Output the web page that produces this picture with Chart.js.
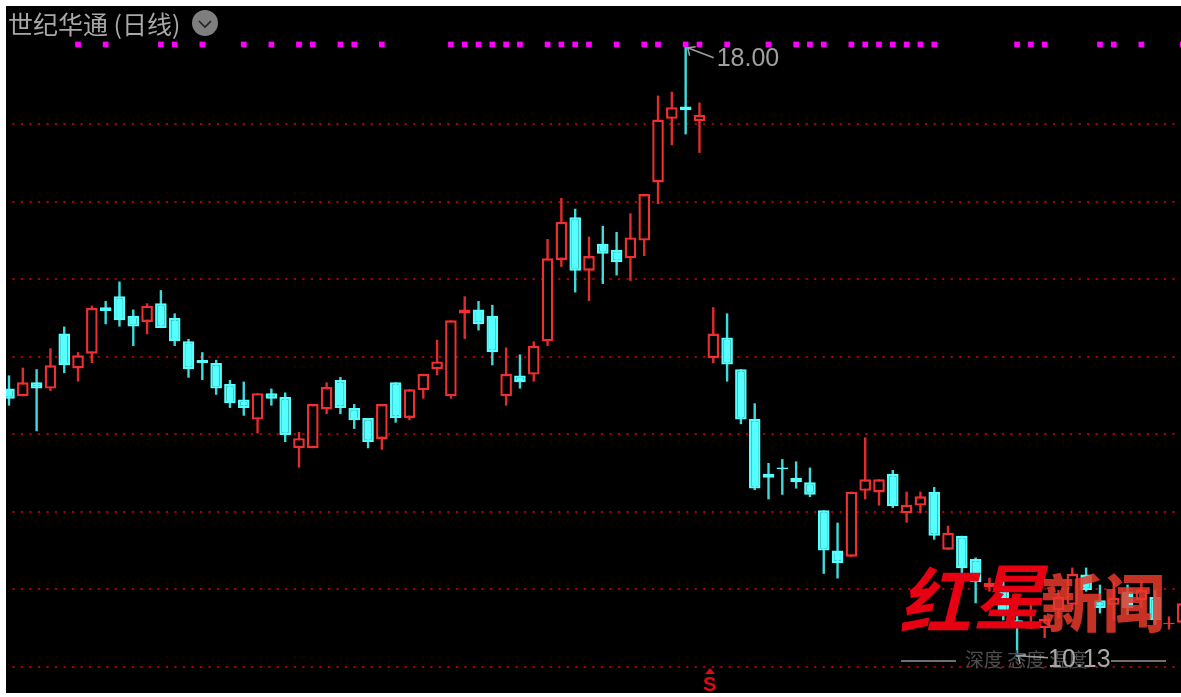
<!DOCTYPE html>
<html>
<head>
<meta charset="utf-8">
<title>世纪华通 (日线)</title>
<script src="https://cdn.jsdelivr.net/npm/chart.js@4/dist/chart.umd.min.js"></script>
<style>
  html, body { margin: 0; padding: 0; background: #fff; overflow: hidden; }
  canvas { display: block; filter: blur(0.35px); }
</style>
</head>
<body>
<canvas id="klineChart" width="1181" height="697"></canvas>
<script>
// --------------------------------- Data -------------------------------
const stockName = '世纪华通 (日线)';

const openPrices = [
  13.59, 13.49, 13.67, 13.59, 14.30, 13.85, 14.04, 14.64, 14.78, 14.53,
  14.45, 14.69, 14.50, 14.20, 13.96, 13.92, 13.65, 13.45, 13.19, 13.53,
  13.48, 12.82, 12.82, 13.32, 13.70, 13.34, 13.21, 12.94, 13.67, 13.21,
  13.57, 13.84, 13.49, 14.56, 14.61, 14.53, 13.49, 13.76, 13.77, 14.20,
  15.25, 15.80, 15.11, 15.46, 15.38, 15.27, 15.50, 16.25, 17.07, 17.23,
  17.04, 13.98, 14.25, 13.84, 13.20, 12.49, 12.57, 12.44, 12.38, 12.02,
  11.50, 11.42, 12.27, 12.25, 12.49, 11.98, 12.08, 12.26, 11.51, 11.69,
  11.39, 11.03, 11.03, 10.60, 10.49, 10.50, 10.73, 10.80, 11.19, 10.86,
  10.80, 10.97, 10.86, 10.90, 10.55, 10.57
];
const closePrices = [
  13.46, 13.67, 13.59, 13.89, 13.89, 14.02, 14.63, 14.59, 14.47, 14.39,
  14.66, 14.37, 14.20, 13.84, 13.92, 13.59, 13.40, 13.34, 13.53, 13.46,
  12.99, 12.95, 13.39, 13.61, 13.34, 13.18, 12.90, 13.39, 13.21, 13.58,
  13.78, 13.94, 14.47, 14.61, 14.42, 14.06, 13.78, 13.67, 14.14, 15.27,
  15.74, 15.11, 15.30, 15.33, 15.22, 15.54, 16.10, 17.06, 17.22, 17.18,
  17.12, 14.30, 13.90, 13.19, 12.30, 12.44, 12.55, 12.38, 12.22, 11.50,
  11.34, 12.26, 12.42, 12.42, 12.07, 12.09, 12.20, 11.69, 11.73, 11.27,
  11.09, 11.08, 10.69, 10.51, 10.57, 10.62, 10.90, 11.20, 10.99, 10.76,
  10.89, 10.76, 10.99, 10.60, 10.57, 10.82
];
const highPrices = [
  13.76, 13.86, 13.84, 14.11, 14.39, 14.06, 14.66, 14.72, 14.97, 14.61,
  14.69, 14.86, 14.56, 14.23, 14.06, 13.96, 13.70, 13.68, 13.53, 13.59,
  13.54, 13.03, 13.39, 13.67, 13.74, 13.39, 13.21, 13.39, 13.67, 13.58,
  13.78, 14.22, 14.47, 14.78, 14.72, 14.67, 14.12, 14.03, 14.20, 15.52,
  16.05, 15.91, 15.55, 15.69, 15.61, 15.85, 16.10, 17.37, 17.42, 18.00,
  17.28, 14.64, 14.56, 13.84, 13.40, 12.63, 12.68, 12.65, 12.57, 12.02,
  11.86, 12.26, 12.96, 12.42, 12.54, 12.26, 12.26, 12.32, 11.82, 11.69,
  11.41, 11.15, 11.15, 10.67, 10.83, 10.67, 10.99, 11.28, 11.28, 11.06,
  11.10, 11.06, 11.10, 10.99, 10.65, 10.82
];
const lowPrices = [
  13.37, 13.49, 13.04, 13.56, 13.79, 13.68, 13.92, 14.42, 14.39, 14.14,
  14.29, 14.37, 14.14, 13.73, 13.70, 13.51, 13.34, 13.24, 13.01, 13.37,
  12.90, 12.57, 12.82, 13.26, 13.26, 13.07, 12.82, 12.80, 13.15, 13.18,
  13.46, 13.76, 13.46, 14.23, 14.34, 13.89, 13.37, 13.59, 13.68, 14.14,
  15.16, 14.83, 14.72, 14.94, 15.05, 14.98, 15.30, 15.97, 16.73, 16.87,
  16.63, 13.92, 13.68, 13.13, 12.28, 12.16, 12.22, 12.30, 12.19, 11.20,
  11.14, 11.42, 12.16, 12.08, 12.05, 11.86, 11.98, 11.64, 11.51, 11.19,
  10.82, 10.97, 10.60, 10.13, 10.49, 10.37, 10.63, 10.73, 10.97, 10.69,
  10.60, 10.67, 10.76, 10.54, 10.48, 10.57
];

// days carrying a magenta dot along the top
const signalDays = [
  5, 7, 11, 12, 14, 17, 19, 21, 22, 24, 25, 27,
  32, 33, 34, 35, 36, 37, 39, 40, 41, 42, 44, 46, 47, 49, 50, 52, 55,
  57, 58, 59, 61, 62, 63, 64, 65, 66, 67, 73, 74, 75, 79, 80, 82, 85
];
const signalLevel = 18.03;

const gridPrices = [10, 11, 12, 13, 14, 15, 16, 17];

const highDay = 49;
const lowDay = 73;
const sellDay = 51;

// ------------------------------------------- Colours ---------------------------------------
const upColor = '#f03030';
const upWick = '#e02c2c';
const downColor = '#55ffff';
const downWick = '#3fdcdc';

const isUp = i => closePrices[i] >= openPrices[i];

// ------------------------------------------ Datasets ---------------------------------------
const wickData = highPrices.map((h, i) => ({ x: i, y: [lowPrices[i], h] }));
const bodyData = openPrices.map((o, i) => ({ x: i, y: [o, closePrices[i]] }));
const signalData = signalDays.map(d => ({ x: d, y: signalLevel }));

// ------------------------------ Black panel behind the plot --------------------------------
const panel = {
  id: 'panel',
  beforeDraw(chart) {
    const { ctx, chartArea: a } = chart;
    ctx.save();
    ctx.fillStyle = '#000';
    ctx.fillRect(a.left, a.top, a.right - a.left, a.bottom - a.top);
    ctx.restore();
  }
};

// -------------------------------- Texts and marks on the plot ------------------------------
const overlay = {
  id: 'overlay',
  afterDraw(chart) {
    const { ctx, scales } = chart;
    const px = d => scales.x.getPixelForValue(d);
    const py = p => scales.y.getPixelForValue(p);

    ctx.save();
    ctx.textBaseline = 'middle';
    ctx.textAlign = 'left';

    // title and drop down button
    ctx.fillStyle = '#a8a8a8';
    ctx.font = '25px "Noto Sans CJK SC"';
    ctx.fillText(stockName, 8, 24);
    ctx.fillStyle = '#7e7e7e';
    ctx.beginPath();
    ctx.arc(205, 23, 13, 0, Math.PI * 2);
    ctx.fill();
    ctx.strokeStyle = '#222';
    ctx.lineWidth = 1.6;
    ctx.beginPath();
    ctx.moveTo(199, 21);
    ctx.lineTo(205, 27);
    ctx.lineTo(211, 21);
    ctx.stroke();

    // highest price
    ctx.strokeStyle = '#a0a0a0';
    ctx.fillStyle = '#a0a0a0';
    ctx.lineWidth = 1.5;
    drawPointer(ctx, px(highDay) + 2, py(highPrices[highDay]) + 1, px(highDay) + 28, py(highPrices[highDay]) + 11);
    ctx.font = '25px "Liberation Sans"';
    ctx.fillText(highPrices[highDay].toFixed(2), px(highDay) + 31, py(highPrices[highDay]) + 12);

    // watermark
    ctx.fillStyle = '#e60012';
    ctx.font = 'italic 700 72px "Noto Sans CJK SC"';
    ctx.fillText('红', 899, 601);
    ctx.fillText('星', 973, 597);
    ctx.globalAlpha = 0.85;
    ctx.fillStyle = '#e8392a';
    ctx.font = '900 62px "Noto Sans CJK SC"';
    ctx.fillText('新闻', 1041, 603);
    ctx.globalAlpha = 1;

    ctx.strokeStyle = '#707070';
    ctx.lineWidth = 2;
    ctx.beginPath();
    ctx.moveTo(901, 661);
    ctx.lineTo(956, 661);
    ctx.moveTo(1111, 661);
    ctx.lineTo(1166, 661);
    ctx.stroke();
    ctx.fillStyle = '#4e4e4e';
    ctx.font = '19px "Noto Sans CJK SC"';
    ctx.fillText('深度 态度 温度', 965, 660);

    // lowest price
    ctx.strokeStyle = '#a0a0a0';
    ctx.fillStyle = '#a8a8a8';
    ctx.lineWidth = 1.5;
    drawPointer(ctx, px(lowDay) + 1, py(lowPrices[lowDay]) - 1, px(lowDay) + 31, py(lowPrices[lowDay]) + 1);
    ctx.font = '25px "Liberation Sans"';
    ctx.fillText(lowPrices[lowDay].toFixed(2), px(lowDay) + 31, py(lowPrices[lowDay]) + 3);

    // sell mark under the day after the gap
    ctx.fillStyle = '#e00a14';
    ctx.beginPath();
    ctx.moveTo(710, 668);
    ctx.lineTo(705, 674);
    ctx.lineTo(715, 674);
    ctx.closePath();
    ctx.fill();
    ctx.textAlign = 'center';
    ctx.font = 'bold 20px "Liberation Sans"';
    ctx.fillText('S', px(sellDay) - 3.5, 685);

    ctx.restore();
  }
};

function drawPointer(ctx, x0, y0, x1, y1) {
  ctx.beginPath();
  ctx.moveTo(x1, y1);
  ctx.lineTo(x0, y0);
  ctx.moveTo(x0 + 8, y0 - 1);
  ctx.lineTo(x0, y0);
  ctx.lineTo(x0 + 2, y0 + 8);
  ctx.stroke();
}

// -------------------------------------------- Chart ----------------------------------------
const klineChart = new Chart(document.getElementById('klineChart'), {
  type: 'bar',
  data: {
    datasets: [
      {
        type: 'scatter',
        label: 'signal',
        data: signalData,
        pointStyle: 'rect',
        pointRadius: 4,
        backgroundColor: '#ff00ff',
        borderWidth: 0,
        order: 0
      },
      {
        label: 'body',
        data: bodyData,
        grouped: false,
        barThickness: 11.6,
        borderSkipped: false,
        borderWidth: 2.4,
        inflateAmount: 0,
        backgroundColor: bodyData.map((d, i) => isUp(i) ? '#000' : downColor),
        borderColor: bodyData.map((d, i) => isUp(i) ? upColor : downColor),
        order: 1
      },
      {
        label: 'wick',
        data: wickData,
        grouped: false,
        barThickness: 2.4,
        borderWidth: 0,
        inflateAmount: 0,
        backgroundColor: wickData.map((d, i) => isUp(i) ? upWick : downWick),
        order: 2
      }
    ]
  },
  plugins: [panel, overlay],
  options: {
    responsive: false,
    animation: false,
    layout: { autoPadding: false, padding: { left: 6, top: 6, right: 0, bottom: 4 } },
    plugins: {
      legend: { display: false },
      tooltip: { enabled: false },
      title: { display: false }
    },
    scales: {
      x: {
        type: 'linear',
        display: false,
        offset: false,
        min: -0.217,
        max: 84.87,
        grid: { display: false }
      },
      y: {
        type: 'linear',
        min: 9.662,
        max: 18.526,
        afterBuildTicks: axis => {
          axis.ticks = gridPrices.map(v => ({ value: v }));
        },
        ticks: { display: false },
        border: { display: false, dash: [2.2, 6.33], dashOffset: 2.23 },
        grid: { color: '#a80000', lineWidth: 2, drawTicks: false }
      }
    }
  }
});
</script>
</body>
</html>
